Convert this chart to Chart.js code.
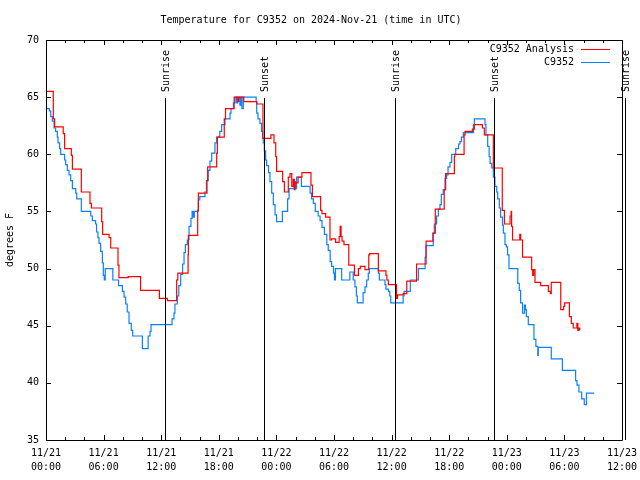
<!DOCTYPE html>
<html>
<head>
<meta charset="utf-8">
<script src="https://cdn.jsdelivr.net/npm/chart.js@4.4.1/dist/chart.umd.min.js"></script>
<style>
  html, body { margin: 0; background: #fff; }
</style>
</head>
<body>
<canvas id="tempChart" width="640" height="480"></canvas>
<script>
// hours since 11/21 00:00 UTC, temperatures in F
const obsHours = [0.0, 0.35, 0.49, 0.66, 0.84, 1.0, 1.18, 1.25, 1.42, 1.53, 1.94, 2.05, 2.22, 2.4, 2.57, 2.75, 3.1, 3.2, 3.68, 4.66, 4.83, 5.17, 5.27, 5.41, 5.52, 5.69, 5.87, 5.97, 6.07, 6.17, 6.96, 7.56, 7.96, 8.13, 8.3, 8.46, 8.65, 8.89, 9.03, 10.04, 10.64, 10.84, 10.94, 13.13, 13.33, 13.43, 13.68, 13.83, 14.03, 14.23, 14.38, 14.52, 14.72, 14.9, 15.1, 15.22, 15.35, 15.45, 15.87, 16.02, 16.56, 16.71, 16.9, 17.08, 17.26, 17.6, 17.78, 18.1, 18.3, 18.65, 19.17, 19.27, 19.52, 19.7, 19.85, 19.95, 20.2, 20.3, 20.4, 20.55, 21.89, 21.95, 22.08, 22.28, 22.46, 22.56, 22.63, 22.74, 22.88, 22.98, 23.18, 23.33, 23.51, 23.68, 23.86, 24.02, 24.62, 25.17, 25.32, 25.87, 26.0, 26.1, 26.6, 27.51, 27.66, 27.85, 28.05, 28.35, 28.55, 28.75, 29.0, 29.25, 29.4, 29.6, 29.75, 29.95, 30.05, 30.15, 30.8, 31.65, 32.0, 32.18, 32.33, 32.43, 33.03, 33.23, 33.4, 33.57, 33.68, 34.62, 34.72, 35.31, 35.41, 35.66, 35.81, 35.91, 37.2, 37.3, 37.95, 38.79, 39.49, 39.59, 40.34, 40.45, 40.69, 40.87, 41.04, 41.18, 41.38, 41.56, 41.73, 41.88, 42.08, 42.26, 42.68, 42.98, 43.12, 43.27, 43.47, 44.52, 44.62, 45.73, 45.83, 46.01, 46.16, 46.26, 46.43, 46.6, 46.76, 46.95, 47.05, 47.22, 47.35, 47.55, 47.64, 47.81, 47.95, 48.08, 48.23, 49.14, 49.3, 49.44, 49.64, 49.84, 49.94, 50.04, 50.24, 50.83, 51.03, 51.23, 51.28, 52.63, 53.79, 55.17, 55.31, 55.51, 55.8, 56.07, 56.3, 57.1];
const obsTemps = [64.0, 63.8, 63.3, 62.9, 62.3, 62.0, 61.5, 61.0, 60.5, 60.0, 59.5, 59.1, 58.6, 58.2, 57.7, 57.0, 56.6, 56.1, 55.0, 54.6, 54.2, 53.9, 53.2, 52.7, 52.2, 51.5, 50.5, 49.4, 49.0, 50.0, 49.0, 48.5, 48.0, 47.5, 46.9, 46.2, 45.2, 44.6, 44.1, 43.0, 44.1, 44.5, 45.1, 45.6, 46.1, 46.9, 47.6, 48.5, 49.5, 50.4, 51.4, 52.1, 52.5, 53.7, 54.4, 55.0, 54.5, 55.0, 56.0, 56.3, 56.7, 57.7, 58.6, 59.4, 60.1, 61.0, 61.5, 62.0, 62.6, 63.1, 63.6, 64.0, 64.5, 65.0, 64.5, 65.0, 64.3, 65.0, 64.0, 65.0, 64.6, 63.6, 63.1, 62.7, 62.0, 61.4, 61.0, 60.3, 59.5, 59.0, 58.4, 57.6, 56.6, 55.6, 54.7, 54.1, 55.0, 56.1, 57.0, 57.6, 57.0, 58.0, 57.2, 56.6, 56.1, 55.7, 55.0, 54.6, 54.2, 53.6, 53.0, 52.1, 51.6, 50.6, 50.2, 49.6, 49.0, 50.0, 49.0, 49.7, 49.0, 48.4, 47.6, 47.0, 47.9, 48.4, 49.0, 49.6, 50.0, 49.6, 49.0, 48.6, 48.2, 48.0, 47.6, 47.0, 47.6, 48.0, 49.0, 50.0, 51.0, 52.0, 53.1, 53.9, 54.6, 55.2, 55.6, 56.5, 56.9, 57.9, 58.2, 58.9, 59.3, 60.0, 60.5, 60.9, 61.1, 61.5, 61.9, 62.6, 63.1, 62.6, 61.7, 60.7, 59.8, 59.2, 58.8, 58.0, 57.2, 56.7, 56.1, 55.3, 54.5, 53.8, 53.1, 52.1, 51.9, 51.2, 50.0, 48.7, 48.1, 47.0, 46.1, 46.8, 46.4, 45.8, 45.1, 43.8, 43.2, 42.4, 43.1, 42.1, 41.1, 40.2, 39.8, 39.2, 38.6, 38.1, 39.1, 39.1];

const anaHours = [0.0, 0.76, 0.9, 1.79, 1.94, 2.64, 2.75, 3.68, 4.58, 4.73, 5.8, 5.9, 6.57, 6.74, 7.5, 7.6, 8.56, 9.85, 11.81, 12.64, 13.61, 13.73, 14.8, 14.83, 15.8, 15.87, 16.77, 16.84, 17.78, 17.85, 18.57, 18.7, 19.6, 20.0, 20.1, 20.6, 21.95, 22.6, 23.43, 23.75, 23.93, 24.02, 24.65, 24.83, 25.24, 25.42, 25.6, 25.75, 25.87, 25.94, 26.26, 26.66, 27.6, 27.75, 28.61, 28.75, 29.13, 29.58, 29.75, 30.17, 30.54, 30.64, 30.74, 30.84, 31.04, 31.54, 32.13, 32.54, 32.74, 33.23, 33.62, 33.72, 34.62, 35.41, 35.51, 35.66, 36.51, 36.61, 37.2, 37.58, 38.6, 39.59, 40.3, 40.55, 41.48, 41.63, 42.54, 42.58, 43.55, 43.65, 44.42, 44.62, 45.46, 45.66, 46.6, 47.53, 47.75, 48.34, 48.45, 48.5, 48.6, 49.35, 49.45, 49.64, 50.59, 50.7, 50.8, 50.94, 51.53, 52.33, 52.53, 52.63, 53.62, 53.92, 54.02, 54.52, 54.72, 54.92, 55.3, 55.4, 55.5, 55.6];
const anaTemps = [65.5, 63.1, 62.4, 61.8, 60.5, 59.9, 58.7, 56.7, 55.7, 55.3, 54.1, 53.0, 52.7, 51.8, 50.3, 49.2, 49.3, 48.1, 47.4, 47.2, 49.0, 49.6, 51.2, 52.9, 55.1, 56.6, 57.7, 58.9, 60.1, 61.5, 63.1, 64.0, 65.0, 64.6, 65.0, 64.6, 64.4, 61.4, 61.7, 61.0, 59.8, 58.5, 57.6, 56.7, 58.0, 58.3, 57.2, 57.8, 56.9, 57.5, 58.0, 58.4, 57.3, 56.3, 55.1, 54.8, 54.5, 52.5, 52.6, 52.3, 52.8, 53.7, 52.8, 52.4, 52.1, 50.3, 49.4, 50.0, 50.2, 49.9, 51.2, 51.3, 49.8, 49.4, 49.0, 48.6, 47.4, 47.7, 47.8, 48.9, 50.4, 52.4, 53.1, 55.2, 56.9, 58.3, 59.8, 60.0, 61.7, 62.0, 62.2, 62.6, 62.3, 61.7, 58.8, 55.1, 53.9, 54.6, 55.0, 53.7, 52.5, 53.0, 52.5, 51.0, 49.9, 49.4, 49.9, 48.8, 48.5, 48.0, 47.8, 48.8, 46.4, 46.7, 47.0, 45.8, 45.2, 44.8, 45.2, 44.6, 44.8, 44.6];

const sunHours = [12.4, 22.7, 36.35, 46.67, 60.31];
const sunLabels = ['Sunrise', 'Sunset', 'Sunrise', 'Sunset', 'Sunrise'];

const xTickLabels = [
  ['11/21', '00:00'], ['11/21', '06:00'], ['11/21', '12:00'], ['11/21', '18:00'],
  ['11/22', '00:00'], ['11/22', '06:00'], ['11/22', '12:00'], ['11/22', '18:00'],
  ['11/23', '00:00'], ['11/23', '06:00'], ['11/23', '12:00']
];

const FONT = "'DejaVu Sans Mono', 'Liberation Mono', monospace";
const toPoints = (hours, temps) => hours.map((h, i) => ({ x: h, y: temps[i] }));

// border box, inward ticks, sunrise/sunset markers and the gnuplot-style key
const gnuplotFrame = {
  id: 'gnuplotFrame',
  afterDatasetsDraw(chart) {
    const { ctx, chartArea: a, scales: { x, y } } = chart;
    const px = v => Math.round(v) + 0.5;
    ctx.save();
    ctx.strokeStyle = '#000';
    ctx.lineWidth = 1;
    ctx.beginPath();
    ctx.rect(px(a.left), px(a.top), Math.round(a.right) - Math.round(a.left), Math.round(a.bottom) - Math.round(a.top));
    for (let h = 0; h <= 60; h += 2) {
      const xp = px(x.getPixelForValue(h));
      const len = h % 6 === 0 ? 5 : 3;
      ctx.moveTo(xp, a.bottom); ctx.lineTo(xp, a.bottom - len);
      ctx.moveTo(xp, a.top); ctx.lineTo(xp, a.top + len);
    }
    for (let t = 35; t <= 70; t += 5) {
      const yp = px(y.getPixelForValue(t));
      ctx.moveTo(a.left, yp); ctx.lineTo(a.left + 5, yp);
      ctx.moveTo(a.right, yp); ctx.lineTo(a.right - 5, yp);
    }
    ctx.stroke();

    ctx.font = '10px ' + FONT;
    ctx.fillStyle = '#000';
    sunHours.forEach((h, i) => {
      const xp = px(x.getPixelForValue(h));
      ctx.beginPath();
      ctx.moveTo(xp, 98);
      ctx.lineTo(xp, a.bottom);
      ctx.stroke();
      ctx.save();
      ctx.translate(xp + 1, 92);
      ctx.rotate(-Math.PI / 2);
      ctx.textAlign = 'left';
      ctx.textBaseline = 'middle';
      ctx.fillText(sunLabels[i], 0, 0);
      ctx.restore();
    });

    ctx.textAlign = 'right';
    ctx.textBaseline = 'middle';
    chart.data.datasets.forEach((ds, i) => {
      const ly = 49.5 + i * 13;
      ctx.fillStyle = '#000';
      ctx.fillText(ds.label, 574, ly);
      ctx.strokeStyle = ds.borderColor;
      ctx.beginPath();
      ctx.moveTo(581, ly);
      ctx.lineTo(610, ly);
      ctx.stroke();
    });
    ctx.restore();
  }
};

new Chart(document.getElementById('tempChart').getContext('2d'), {
  type: 'line',
  data: {
    datasets: [
      { label: 'C9352 Analysis', data: toPoints(anaHours, anaTemps), borderColor: '#ff0000',
        borderWidth: 1.2, pointRadius: 0, stepped: true, fill: false },
      { label: 'C9352', data: toPoints(obsHours, obsTemps), borderColor: '#0a80ff',
        borderWidth: 1.2, pointRadius: 0, stepped: true, fill: false }
    ]
  },
  options: {
    responsive: false,
    animation: false,
    layout: { padding: { left: 0, right: 18, top: 0, bottom: 0 } },
    plugins: {
      legend: { display: false },
      tooltip: { enabled: false },
      title: {
        display: true,
        text: 'Temperature for C9352 on 2024-Nov-21 (time in UTC)',
        color: '#000',
        font: { family: FONT, size: 10, weight: 'normal' },
        padding: { top: 14, bottom: 14 }
      }
    },
    scales: {
      x: {
        type: 'linear', min: 0, max: 60,
        grid: { display: false, drawTicks: false },
        border: { display: false },
        ticks: {
          stepSize: 6, autoSkip: false, maxRotation: 0, padding: 7, color: '#000',
          font: { family: FONT, size: 10, lineHeight: 1.35 },
          callback: v => xTickLabels[Math.round(v / 6)]
        },
        afterFit: s => { s.height = 40; s.paddingLeft = 0; s.paddingRight = 0; }
      },
      y: {
        min: 35, max: 70,
        grid: { display: false, drawTicks: false },
        border: { display: false },
        ticks: { stepSize: 5, padding: 7, color: '#000', font: { family: FONT, size: 10 } },
        title: { display: true, text: 'degrees F', color: '#000',
                 font: { family: FONT, size: 10 }, padding: { top: 4, bottom: 0 } },
        afterFit: s => { s.width = 46; s.paddingTop = 0; s.paddingBottom = 0; }
      }
    }
  },
  plugins: [gnuplotFrame]
});
</script>
</body>
</html>
